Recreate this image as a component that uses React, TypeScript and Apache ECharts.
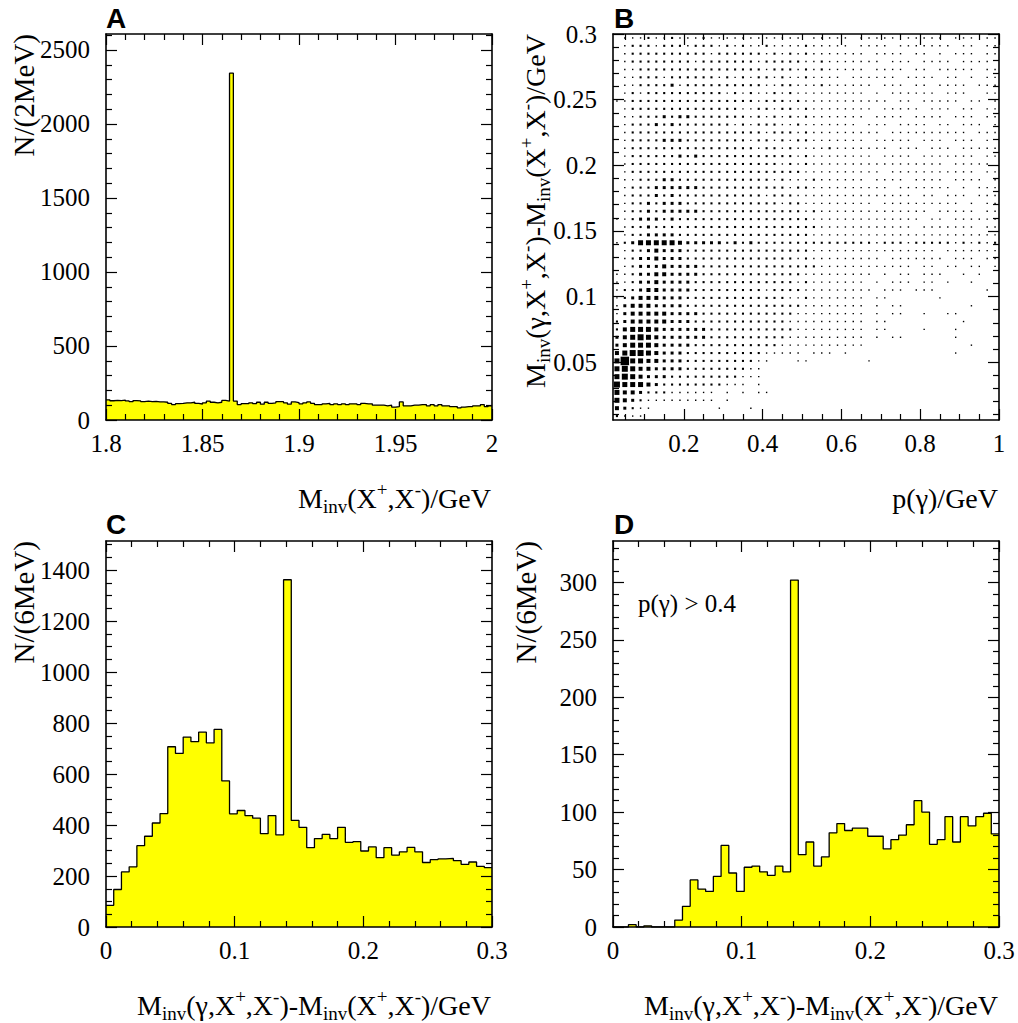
import React, { useEffect, useRef } from 'react';
import * as echarts from 'echarts';

const SERIF = '"Liberation Serif", "Times New Roman", serif';
const SANS = '"Liberation Sans", Arial, sans-serif';

// ---------- Panel A : M_inv(X+,X-), 2 MeV bins ----------
const A_X_MIN = 1.8;
const A_X_MAX = 2.0;
const A_BIN = 0.002;
const A_Y_MAX = 2608;
const A_COUNTS = [
  136, 130, 133, 131, 135, 129, 124, 131, 129, 124, 127, 124, 126, 122, 122, 120, 112, 104, 110, 112,
  116, 116, 120, 112, 108, 116, 128, 120, 116, 120, 132, 128, 2343, 128, 104, 110, 110, 116, 110, 120,
  107, 120, 112, 116, 124, 124, 116, 107, 122, 118, 109, 116, 122, 113, 104, 104, 109, 113, 104, 109,
  104, 109, 104, 109, 109, 104, 113, 109, 109, 100, 100, 100, 96, 100, 87, 91, 122, 96, 96, 100,
  100, 104, 104, 96, 104, 96, 104, 96, 96, 91, 91, 82, 87, 91, 91, 96, 96, 104, 91, 96,
];
const A_X_MAJOR = [1.8, 1.85, 1.9, 1.95, 2.0];
const A_X_MINOR_STEP = 0.01;
const A_Y_MAJOR = [0, 500, 1000, 1500, 2000, 2500];
const A_Y_MINOR_STEP = 100;

// ---------- Panel B : box plot, 0.02 GeV x 6 MeV cells ----------
const B_X_MIN = 0.02;
const B_X_MAX = 1.0;
const B_X_BIN = 0.02;
const B_Y_MIN = 0.006;
const B_Y_MAX = 0.3;
const B_Y_BIN = 0.006;
// rows from top (0.294-0.300) to bottom (0.006-0.012); digit = box size level
const B_LEVEL_ROWS = [
  '0111211211 1211111111 1111011111 0111110111 110111011',
  '0122212221 2221212112 1111211111 0111101111 111011011',
  '0122222222 2212222221 2121211111 1101111011 010111011',
  '0122222222 1222222212 2222112111 1111011101 111011110',
  '0112222222 2222222221 2221212111 1101111011 011111011',
  '0112221222 2221212122 1211211110 1111110111 101101011',
  '0112222312 2222222221 1221112111 1110111011 011110111',
  '0121222222 2222121211 2121111111 1101011111 101110011',
  '1122222222 2222222212 2212111111 1111101101 111101101',
  '0122222222 2222221122 1221211111 1110111110 111011011',
  '0112223233 2222222121 2121211111 1101111011 110111011',
  '0122232322 2222212122 2112111111 1011101111 011011101',
  '0122222222 2222222221 2221211111 1111011111 111110111',
  '0122223332 2222222122 1212211111 1101111101 110111010',
  '0122222222 2222222212 2121111211 1111101110 111011111',
  '0122222232 3222222222 2221211111 1110111101 111111011',
  '0122222222 2222222222 2121211111 1111111111 110111110',
  '0122222222 2222222222 2222111111 1111011111 111111011',
  '0112223322 2222222222 1211121111 1101111011 110111101',
  '0122233333 3222222222 2212211111 1111101111 111010111',
  '0122232322 2222222221 2221111111 1111111101 101110111',
  '0122323332 2222222222 2122111111 1110111111 111101011',
  '0122323333 3222222222 2222121111 1111111111 011111011',
  '1123332322 2222222222 2222211111 1111111110 110111111',
  '0122322222 2222222222 2222221111 1111111101 111111011',
  '0122333322 2222222222 2222211111 1111111111 111111111',
  '1235555543 3333232322 2222222222 2221222122 222121212',
  '0122343332 2222222222 2222211111 1111111111 101111111',
  '0123343332 2222222222 2221211111 1111011111 110111011',
  '0123334333 3222222222 2222221111 1111111101 101101101',
  '1123344333 3222222222 2222111111 1110101101 110010100',
  '1123343333 2222222222 2221211111 1101011101 101001000',
  '1223443333 2222222221 2222111111 1110111011 100000010',
  '1234443332 2222222222 2211211111 1101100000 010000000',
  '1344433332 2222222222 2222111111 1101011000 000001000',
  '1344444333 3222222222 2221111111 1101011001 001100000',
  '2344444333 2222222222 2211111111 1101100000 000010000',
  '2455543333 3322222222 2221111111 1101100001 000100000',
  '3456543333 3322222222 2211111111 1101011000 000100000',
  '3455543333 2222222222 2111111111 1100000000 000001000',
  '4566543332 2222222221 1111011101 0000000000 000100000',
  '5855443332 2222222211 0001100000 0010000000 000000000',
  '5654433332 2222222110 0000000000 0000000000 000000000',
  '5654333222 2222221110 0000000000 0000000000 000000000',
  '6555432222 2222111010 0000000000 0000000000 000000000',
  '5443222111 1110101011 0000000000 0000000000 000000000',
  '5432111111 1110100000 0000000000 0000000000 000000000',
  '4321100000 0001000100 0000000000 0000000000 000000000',
  '2111000000 0000000000 0000000000 0000000000 000000000',
];
const B_BOX_SIZE = [0, 1.4, 2.1, 3, 4, 5, 6, 7, 8.5];
const B_X_MAJOR = [0.2, 0.4, 0.6, 0.8, 1.0];
const B_X_MINOR_STEP = 0.05;
const B_Y_MAJOR = [0.05, 0.1, 0.15, 0.2, 0.25, 0.3];
const B_Y_MINOR_STEP = 0.01;

// ---------- Panel C : mass difference, 6 MeV bins ----------
const CD_X_MIN = 0;
const CD_X_MAX = 0.3;
const CD_BIN = 0.006;
const C_Y_MAX = 1514;
const C_COUNTS = [
  85, 147, 216, 236, 319, 356, 408, 445, 707, 681,
  745, 727, 764, 722, 775, 573, 444, 457, 437, 427,
  366, 437, 361, 1362, 418, 391, 311, 347, 363, 347,
  391, 332, 335, 298, 314, 272, 311, 282, 295, 312,
  295, 253, 264, 267, 269, 260, 246, 255, 238, 233,
];
const CD_X_MAJOR = [0, 0.1, 0.2, 0.3];
const CD_X_MINOR_STEP = 0.02;
const C_Y_MAJOR = [0, 200, 400, 600, 800, 1000, 1200, 1400];
const C_Y_MINOR_STEP = 50;

// ---------- Panel D : same, p(gamma) > 0.4 ----------
const D_Y_MAX = 336;
const D_COUNTS = [
  0, 0, 2, 0, 1, 0, 0, 0, 6, 18,
  41, 33, 31, 44, 71, 47, 31, 52, 53, 48,
  45, 53, 48, 302, 63, 74, 53, 61, 82, 90,
  84, 86, 86, 79, 79, 68, 76, 80, 89, 110,
  100, 72, 76, 96, 74, 96, 88, 96, 99, 81,
];
const D_Y_MAJOR = [0, 50, 100, 150, 200, 250, 300];
const D_Y_MINOR_STEP = 10;

const GRIDS = [
  { left: 106, top: 34, width: 386, height: 386 },
  { left: 613, top: 34, width: 386, height: 386 },
  { left: 106, top: 541, width: 386, height: 386 },
  { left: 613, top: 541, width: 386, height: 386 },
];

function round6(v: number) {
  return Math.round(v * 1e6) / 1e6;
}

function minorValues(min: number, max: number, step: number, majors: number[]) {
  const out: number[] = [];
  const start = Math.ceil(round6(min / step));
  const end = Math.floor(round6(max / step));
  for (let i = start; i <= end; i++) {
    const v = round6(i * step);
    if (v <= min || v >= max) continue;
    if (majors.some((m) => Math.abs(m - v) < step * 1e-3)) continue;
    out.push(v);
  }
  return out;
}

function fmt(v: number) {
  return String(round6(v));
}

function frameAxes(dim: 'x' | 'y', gridIndex: number, min: number, max: number, majors: number[], minorStep: number) {
  const minors = minorValues(min, max, minorStep, majors);
  const positions = dim === 'x' ? ['bottom', 'top'] : ['left', 'right'];
  const list: any[] = [];
  positions.forEach((position, pi) => {
    [true, false].forEach((isMajor) => {
      list.push({
        type: 'value',
        gridIndex,
        position,
        min,
        max,
        z: 10,
        axisLine: { show: isMajor, onZero: false, lineStyle: { color: '#000', width: 1.6 } },
        axisTick: {
          show: true,
          inside: true,
          length: isMajor ? 11 : 6,
          customValues: isMajor ? majors : minors,
          lineStyle: { color: '#000', width: 1.2 },
        },
        axisLabel: {
          show: pi === 0 && isMajor,
          customValues: majors,
          formatter: (v: number) => fmt(v),
          fontFamily: SERIF,
          fontSize: 25,
          color: '#000',
          margin: dim === 'x' ? 11 : 16,
        },
        splitLine: { show: false },
        minorTick: { show: false },
      });
    });
  });
  return list;
}

function stepData(lo: number, width: number, counts: number[]) {
  const pts: number[][] = counts.map((c, i) => [round6(lo + i * width), c]);
  pts.push([round6(lo + counts.length * width), counts[counts.length - 1]]);
  return pts;
}

function histSeries(idx: number, lo: number, width: number, counts: number[]) {
  return {
    type: 'line',
    xAxisIndex: idx * 4,
    yAxisIndex: idx * 4,
    step: 'end',
    symbol: 'none',
    data: stepData(lo, width, counts),
    lineStyle: { color: '#000', width: 1.3 },
    areaStyle: { color: '#ffff00', opacity: 1 },
    z: 2,
  };
}

function boxData() {
  const out: number[][] = [];
  const nRows = B_LEVEL_ROWS.length;
  B_LEVEL_ROWS.forEach((row, r) => {
    const j = nRows - 1 - r;
    const cells = row.replace(/ /g, '');
    for (let k = 0; k < cells.length; k++) {
      const lv = Number(cells[k]);
      if (lv > 0) out.push([round6(B_X_MIN + (k + 0.5) * B_X_BIN), round6(B_Y_MIN + (j + 0.5) * B_Y_BIN), lv]);
    }
  });
  return out;
}

function makeRich(size: number, sub: number, lh: number) {
  return {
    n: { fontFamily: SERIF, fontSize: size, lineHeight: lh, color: '#000' },
    s: { fontFamily: SERIF, fontSize: sub, verticalAlign: 'bottom', color: '#000' },
    p: { fontFamily: SERIF, fontSize: sub, verticalAlign: 'top', color: '#000' },
  };
}
const RICH_TITLE = makeRich(28, 19, 36);
const RICH_N = makeRich(29, 19, 36);

const T_MASS = '{n|M}{s|inv}{n|(X}{p|+}{n|,X}{p|-}{n|)/GeV}';
const T_DIFF = '{n|M}{s|inv}{n|(γ,X}{p|+}{n|,X}{p|-}{n|)-M}{s|inv}{n|(X}{p|+}{n|,X}{p|-}{n|)/GeV}';
const T_P = '{n|p(γ)/GeV}';
const T_N2 = '{n|N/(2MeV)}';
const T_N6 = '{n|N/(6MeV)}';
const T_CUT = 'p(γ) > 0.4';
const PANEL_LETTERS = ['A', 'B', 'C', 'D'];

function textEl(text: string, x: number, y: number, align: string, rich: any, rotation = 0) {
  return {
    type: 'text',
    x,
    y,
    rotation,
    z: 20,
    style: {
      text,
      rich,
      align,
      textAlign: align,
      verticalAlign: 'middle',
      textVerticalAlign: 'middle',
      fill: '#000',
    },
  };
}

export default function App() {
  const ref = useRef<HTMLDivElement>(null);

  useEffect(() => {
    if (!ref.current) return;
    const chart = echarts.init(ref.current, undefined, { renderer: 'svg' });

    const xAxis = [
      ...frameAxes('x', 0, A_X_MIN, A_X_MAX, A_X_MAJOR, A_X_MINOR_STEP),
      ...frameAxes('x', 1, B_X_MIN, B_X_MAX, B_X_MAJOR, B_X_MINOR_STEP),
      ...frameAxes('x', 2, CD_X_MIN, CD_X_MAX, CD_X_MAJOR, CD_X_MINOR_STEP),
      ...frameAxes('x', 3, CD_X_MIN, CD_X_MAX, CD_X_MAJOR, CD_X_MINOR_STEP),
    ];
    const yAxis = [
      ...frameAxes('y', 0, 0, A_Y_MAX, A_Y_MAJOR, A_Y_MINOR_STEP),
      ...frameAxes('y', 1, B_Y_MIN, B_Y_MAX, B_Y_MAJOR, B_Y_MINOR_STEP),
      ...frameAxes('y', 2, 0, C_Y_MAX, C_Y_MAJOR, C_Y_MINOR_STEP),
      ...frameAxes('y', 3, 0, D_Y_MAX, D_Y_MAJOR, D_Y_MINOR_STEP),
    ];

    const letterPos = [
      [106, 18],
      [614, 18],
      [106, 524],
      [614, 524],
    ];

    const graphic: any[] = [
      ...PANEL_LETTERS.map((l, i) => ({
        type: 'text',
        x: letterPos[i][0],
        y: letterPos[i][1],
        z: 20,
        style: {
          text: l,
          font: `bold 28px ${SANS}`,
          fill: '#000',
          align: 'left',
          textAlign: 'left',
          verticalAlign: 'middle',
          textVerticalAlign: 'middle',
        },
      })),
      textEl(T_MASS, 491, 498, 'right', RICH_TITLE),
      textEl(T_P, 998, 498, 'right', RICH_TITLE),
      textEl(T_DIFF, 491, 1005, 'right', RICH_TITLE),
      textEl(T_DIFF, 998, 1005, 'right', RICH_TITLE),
      textEl(T_N2, 24, 34, 'right', RICH_N, Math.PI / 2),
      textEl(T_DIFF, 535, 34, 'right', RICH_TITLE, Math.PI / 2),
      textEl(T_N6, 24, 541, 'right', RICH_N, Math.PI / 2),
      textEl(T_N6, 526, 541, 'right', RICH_N, Math.PI / 2),
      {
        type: 'text',
        x: 638,
        y: 603,
        z: 20,
        style: {
          text: T_CUT,
          font: `25px ${SERIF}`,
          fill: '#000',
          align: 'left',
          textAlign: 'left',
          verticalAlign: 'middle',
          textVerticalAlign: 'middle',
        },
      },
    ];

    chart.setOption({
      animation: false,
      backgroundColor: '#fff',
      grid: GRIDS.map((g) => ({ ...g, containLabel: false })),
      xAxis,
      yAxis,
      series: [
        histSeries(0, A_X_MIN, A_BIN, A_COUNTS),
        {
          type: 'scatter',
          xAxisIndex: 4,
          yAxisIndex: 4,
          symbol: 'rect',
          large: false,
          data: boxData(),
          symbolSize: (v: number[]) => B_BOX_SIZE[v[2]],
          itemStyle: { color: '#000', opacity: 1 },
          z: 2,
        },
        histSeries(2, CD_X_MIN, CD_BIN, C_COUNTS),
        histSeries(3, CD_X_MIN, CD_BIN, D_COUNTS),
      ],
      graphic,
    });

    return () => chart.dispose();
  }, []);

  return (
    <div
      ref={ref}
      style={{ position: 'absolute', left: 0, top: 0, width: 1018, height: 1023, background: '#fff' }}
    />
  );
}
